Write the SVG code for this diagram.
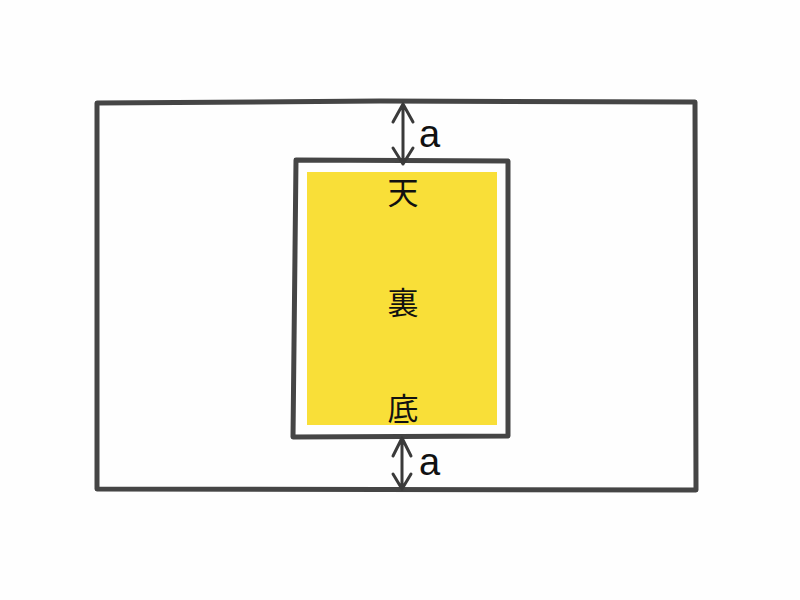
<svg xmlns="http://www.w3.org/2000/svg" width="800" height="600" viewBox="0 0 800 600">
<style>
.frame{fill:none;stroke:#454545;stroke-width:5;stroke-linejoin:round;stroke-linecap:round}
.arr{fill:none;stroke:#3a3a3a;stroke-width:3;stroke-linecap:round;stroke-linejoin:round}
.lbl{font-family:"Noto Sans CJK JP","Noto Sans",sans-serif;font-size:31px;fill:#111;text-anchor:middle}
.a{font-family:"Liberation Sans","Noto Sans",sans-serif;font-size:38px;fill:#111}
</style>
<rect width="800" height="600" fill="#fefefe"/>
<g id="outer">
<path class="frame" d="M97,103 L380,101 L695,102 L696,490 L97,489 Z"/>
</g>
<g id="inner">
<rect x="307" y="172" width="190" height="253" fill="#f9df38"/>
<path class="frame" d="M296,160 L508,161 L508,436 L293,437 Z"/>
<text class="lbl" x="403" y="204">天</text>
<text class="lbl" x="403" y="314">裏</text>
<text class="lbl" x="403" y="420">底</text>
</g>
<g id="connectors">
<path class="arr" d="M403,104 L403,164 M393,122 L403,104 L413,122 M393,148 L403,164 L413,148"/>
<path class="arr" d="M402,438 L402,489 M393,456 L402,438 L411,456 M393,474 L402,489 L411,474"/>
<text class="a" x="419" y="147">a</text>
<text class="a" x="419" y="475">a</text>
</g>
</svg>
